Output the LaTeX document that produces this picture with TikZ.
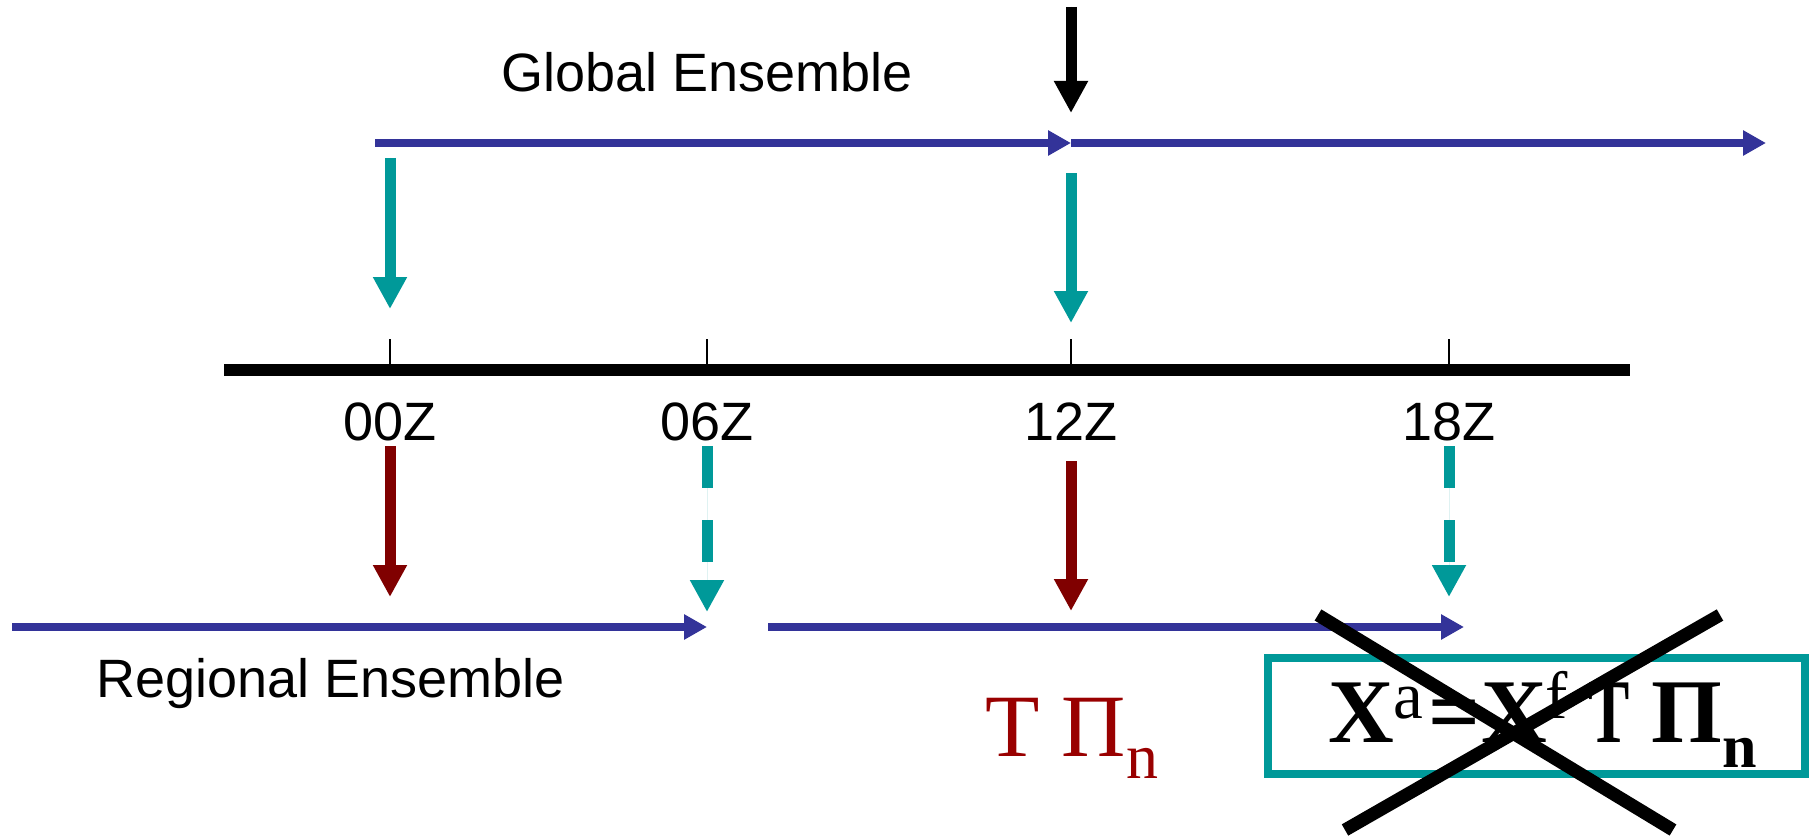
\documentclass[tikz,border=0pt]{standalone}
\usepackage{fontspec}
\setmainfont{Liberation Sans}
\newfontfamily\seriffont{Liberation Serif}
\usetikzlibrary{arrows.meta}
\definecolor{navy}{RGB}{51,51,153}
\definecolor{tealc}{RGB}{0,153,153}
\definecolor{darkred}{RGB}{128,0,0}
\definecolor{txtred}{RGB}{153,0,0}
\newcommand{\supsz}{\fontseries{m}\fontsize{67}{67}\selectfont}
\begin{document}
\begin{tikzpicture}[x=1pt,y=-1pt,
  bluearrow/.style={draw=navy,line width=8pt,-{Triangle[length=23pt,width=24pt]}},
  fatarrow/.style={line width=11pt,-{Triangle[length=32pt,width=32pt]}},
  tealarrow/.style={fatarrow,draw=tealc,fill=tealc},
  redarrow/.style={fatarrow,draw=darkred,fill=darkred},
  blackarrow/.style={fatarrow,draw=black,fill=black},
  dasharrow/.style={tealarrow,dash pattern=on 42pt off 32pt},
  lbl/.style={inner sep=0pt,anchor=base,font=\fontsize{54}{60}\selectfont},
  tickline/.style={draw=black,line width=2pt},
  crossline/.style={draw=black,line width=13pt}
]
\useasboundingbox (0,0) rectangle (1810,840);
% coordinates
\coordinate (g0) at (375,143);
\coordinate (g1) at (1071,143);
\coordinate (g2) at (1766,143);
\coordinate (b0) at (1071,7);
\coordinate (b1) at (1071,113);
\coordinate (t0s) at (390,158);
\coordinate (t0e) at (390,309);
\coordinate (t12s) at (1071,173);
\coordinate (t12e) at (1071,323);
\coordinate (tl0) at (224,370);
\coordinate (tl1) at (1630,370);
\coordinate (k00) at (390,339);  \coordinate (k00b) at (390,370);
\coordinate (k06) at (707,339);  \coordinate (k06b) at (707,370);
\coordinate (k12) at (1071,339); \coordinate (k12b) at (1071,370);
\coordinate (k18) at (1449,339); \coordinate (k18b) at (1449,370);
\coordinate (r0s) at (390,446);  \coordinate (r0e) at (390,597);
\coordinate (r12s) at (1071,461); \coordinate (r12e) at (1071,611);
\coordinate (d06s) at (707,446); \coordinate (d06e) at (707,612);
\coordinate (d18s) at (1449,446); \coordinate (d18e) at (1449,597);
\coordinate (re0) at (12,627);   \coordinate (re1) at (707,627);
\coordinate (re2) at (768,627);  \coordinate (re3) at (1464,627);
\coordinate (c1a) at (1318,615); \coordinate (c1b) at (1673,830);
\coordinate (c2a) at (1345,830); \coordinate (c2b) at (1720,615);

% texts
\node[lbl] (glob) at (707,92) {Global Ensemble};
\node[lbl] (reg) at (331,697) {Regional Ensemble};
\node[lbl] (z00) at (390,440) {00Z};
\node[lbl] (z06) at (707,440) {06Z};
\node[lbl] (z12) at (1071,440) {12Z};
\node[lbl] (z18) at (1449,440) {18Z};
\node[inner sep=0pt,anchor=base west,text=txtred,font=\seriffont\fontsize{89}{90}\selectfont]
  (tpi) at (985,756) {T Π\raisebox{-22pt}{\fontsize{64}{64}\selectfont n}};

% box
\node[draw=tealc,line width=8pt,minimum width=537pt,minimum height=116pt,inner sep=0pt] (box) at (1536,716) {};
\node[inner sep=0pt,anchor=base west,font=\seriffont\bfseries\fontsize{91}{92}\selectfont]
  (form) at (1328,742) {X\raisebox{24pt}{\supsz a}\hspace{5pt}=\hspace{1pt}X\hspace{-2pt}\raisebox{24pt}{\supsz f}\hspace{21pt}\scalebox{0.68}[1]{T}\hspace{22pt}Π\raisebox{-25pt}{\fontsize{62}{62}\selectfont n}};

% arrows
\draw[bluearrow] (g0) -- (g1);
\draw[bluearrow] (g1) -- (g2);
\draw[blackarrow] (b0) -- (b1);
\draw[tealarrow] (t0s) -- (t0e);
\draw[tealarrow] (t12s) -- (t12e);
\draw[draw=black,line width=12pt] (tl0) -- (tl1);
\draw[tickline] (k00) -- (k00b);
\draw[tickline] (k06) -- (k06b);
\draw[tickline] (k12) -- (k12b);
\draw[tickline] (k18) -- (k18b);
\draw[redarrow] (r0s) -- (r0e);
\draw[redarrow] (r12s) -- (r12e);
\draw[dasharrow] (d06s) -- (d06e);
\draw[dasharrow] (d18s) -- (d18e);
\draw[bluearrow] (re0) -- (re1);
\draw[bluearrow] (re2) -- (re3);
% cross
\draw[crossline] (c1a) -- (c1b);
\draw[crossline] (c2a) -- (c2b);
\end{tikzpicture}
\end{document}
